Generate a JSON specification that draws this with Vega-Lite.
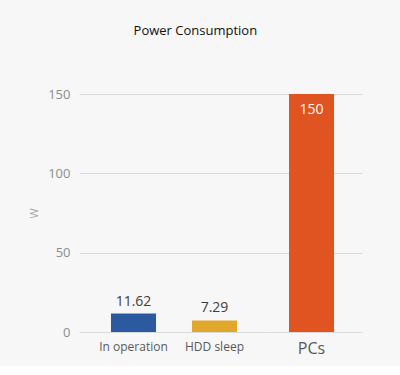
{
  "$schema": "https://vega.github.io/schema/vega-lite/v6.json",
  "background": "#f7f7f7",
  "padding": {"left": 28, "top": 25, "right": 38, "bottom": 10},
  "title": {"text": "Power Consumption", "font": "Open Sans", "fontSize": 13, "fontWeight": "normal", "color": "#111111", "anchor": "middle", "frame": "bounds", "offset": 50},
  "config": {"view": {"stroke": null}, "font": "Open Sans", "concat": {"spacing": 0}},
  "data": {"values": [
    {"item": "In operation", "group": "A", "watts": 11.62},
    {"item": "HDD sleep", "group": "A", "watts": 7.29},
    {"item": "PCs", "group": "B", "watts": 150}
  ]},
  "spacing": 0,
  "hconcat": [
    {
      "width": 190,
      "height": 238,
      "transform": [{"filter": "datum.group === 'A'"}],
      "encoding": {
        "x": {"field": "item", "type": "nominal", "sort": null,
          "scale": {"domain": ["In operation", "HDD sleep"], "paddingInner": 0.444, "paddingOuter": 0.395},
          "axis": {"title": null, "labelAngle": 0, "domain": false, "ticks": false, "tickSize": 0, "labelPadding": 9, "labelFontSize": 12, "labelColor": "#595959", "labelFont": "Open Sans"}},
        "y": {"field": "watts", "type": "quantitative",
          "scale": {"domain": [0, 150], "nice": false},
          "axis": {"title": "W", "values": [0, 50, 100, 150], "domain": false, "ticks": false, "tickSize": 0, "labelPadding": 9, "labelFontSize": 13, "labelColor": "#8c8c8c", "titleColor": "#a6a6a6", "titleFontSize": 11, "titleFontWeight": "normal", "titlePadding": 8, "gridColor": "#d9d9d9", "gridWidth": 1, "labelFont": "Open Sans", "titleFont": "Open Sans"}}
      },
      "layer": [
        {"mark": {"type": "bar"},
          "encoding": {"color": {"field": "item", "type": "nominal", "legend": null,
            "scale": {"domain": ["In operation", "HDD sleep", "PCs"], "range": ["#2c5aa0", "#e1a72d", "#e05421"]}}}},
        {"mark": {"type": "text", "baseline": "bottom", "dy": -5, "fontSize": 14, "color": "#404040", "font": "Open Sans"},
          "encoding": {"text": {"field": "watts", "type": "quantitative", "format": ".2f"}}}
      ]
    },
    {
      "width": 93,
      "height": 238,
      "transform": [{"filter": "datum.group === 'B'"}],
      "encoding": {
        "x": {"field": "item", "type": "nominal", "sort": null,
          "scale": {"domain": ["PCs"], "paddingInner": 0, "paddingOuter": 0.533, "align": 0.417},
          "axis": {"title": null, "labelAngle": 0, "domain": false, "ticks": false, "tickSize": 0, "labelPadding": 8, "labelFontSize": 16, "labelColor": "#595959", "labelFont": "Open Sans"}},
        "y": {"field": "watts", "type": "quantitative",
          "scale": {"domain": [0, 150], "nice": false},
          "axis": {"title": null, "labels": false, "values": [0, 50, 100, 150], "domain": false, "ticks": false, "tickSize": 0, "gridColor": "#d9d9d9", "gridWidth": 1}}
      },
      "layer": [
        {"mark": {"type": "bar"},
          "encoding": {"color": {"field": "item", "type": "nominal", "legend": null,
            "scale": {"domain": ["In operation", "HDD sleep", "PCs"], "range": ["#2c5aa0", "#e1a72d", "#e05421"]}}}},
        {"mark": {"type": "text", "baseline": "top", "dy": 9, "fontSize": 14, "color": "#ffffff", "font": "Open Sans"},
          "encoding": {"text": {"field": "watts", "type": "quantitative", "format": "d"}}}
      ]
    }
  ]
}
